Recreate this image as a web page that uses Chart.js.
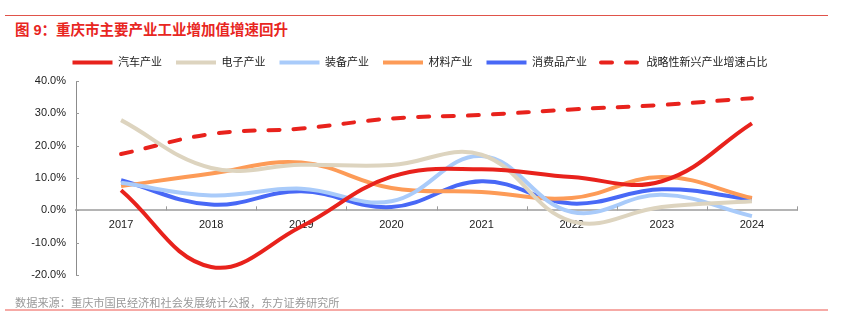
<!DOCTYPE html>
<html lang="zh">
<head>
    <meta charset="UTF-8">
    <title>重庆市主要产业工业增加值增速回升</title>
    <script src="https://cdn.jsdelivr.net/npm/chart.js"></script>
    <style>
        body {
            margin: 0;
            background: #ffffff;
            font-family: 'Liberation Sans', Arial, 'Noto Sans CJK SC', sans-serif;
        }
        .wrap {
            position: relative;
            width: 846px;
            height: 327px;
            overflow: hidden;
        }
        .rule-top {
            position: absolute;
            left: 5px;
            top: 15px;
            width: 823px;
            border-top: 1px solid #e0534a;
        }
        .title {
            position: absolute;
            left: 15px;
            top: 18px;
            font-size: 14.5px;
            font-weight: bold;
            color: #e8261f;
            white-space: nowrap;
        }
        .source {
            position: absolute;
            left: 15px;
            top: 294px;
            font-size: 11.2px;
            color: #999999;
            white-space: nowrap;
        }
        .rule-bottom {
            position: absolute;
            left: 5px;
            top: 309px;
            width: 823px;
            border-top: 2px solid #f6aaa6;
        }
        .chart-box {
            position: absolute;
            left: 0;
            top: 0;
            width: 846px;
            height: 327px;
        }
    </style>
</head>
<body>
<div class="wrap">
    <div class="rule-top"></div>
    <div class="title">图 9：重庆市主要产业工业增加值增速回升</div>
    <div class="chart-box"><canvas id="chart"></canvas></div>
    <div class="source">数据来源：重庆市国民经济和社会发展统计公报，东方证券研究所</div>
    <div class="rule-bottom"></div>
</div>

<script>
    // data (%)
    const years = ['2017', '2018', '2019', '2020', '2021', '2022', '2023', '2024'];
    const autoInd = [6.2, -17.5, -5.0, 10.4, 12.7, 10.3, 9.0, 26.9];
    const electronics = [27.9, 13.1, 14.1, 14.0, 17.2, -3.4, 1.0, 2.8];
    const equipment = [8.5, 4.6, 6.7, 2.8, 16.8, -0.5, 4.8, -1.8];
    const materials = [7.5, 11.4, 14.8, 6.9, 5.7, 3.8, 10.3, 3.8];
    const consumer = [9.3, 1.8, 5.9, 1.0, 9.0, 2.1, 6.5, 3.4];
    const strategic = [17.4, 23.6, 25.3, 28.4, 29.5, 31.2, 32.6, 34.7];
    const yTicks = [-20, -10, 0, 10, 20, 30, 40];

    const FONT = "'Liberation Sans', Arial, 'Noto Sans CJK SC', sans-serif";

    // small tick marks pointing into the plot, like the original
    const inwardTicks = {
        id: 'inwardTicks',
        afterDatasetsDraw(chart) {
            const { ctx, scales: { x, y } } = chart;
            const y0 = y.getPixelForValue(0);
            const step = x.getPixelForValue(1) - x.getPixelForValue(0);
            ctx.save();
            ctx.strokeStyle = '#9a9a9a';
            ctx.lineWidth = 1;
            ctx.beginPath();
            for (let i = 0; i <= years.length; i++) {
                const px = Math.round(x.getPixelForValue(0) - step / 2 + step * i) + 0.5;
                ctx.moveTo(px, y0);
                ctx.lineTo(px, y0 - 4);
            }
            yTicks.forEach(v => {
                const py = Math.round(y.getPixelForValue(v)) + 0.5;
                ctx.moveTo(x.left, py);
                ctx.lineTo(x.left + 3, py);
            });
            ctx.stroke();
            ctx.restore();
        }
    };

    // a bit more room under the legend
    const legendGap = {
        id: 'legendGap',
        afterInit(chart) {
            const lg = chart.legend;
            if (!lg) return;
            const fit = lg.fit.bind(lg);
            lg.fit = function () {
                fit();
                this.height += 3;
            };
        }
    };

    function line(label, data, color, extra) {
        return Object.assign({
            label: label,
            data: data,
            borderColor: color,
            backgroundColor: color,
            borderWidth: 4,
            pointRadius: 0,
            pointHoverRadius: 0,
            tension: 0.4,
            fill: false
        }, extra || {});
    }

    new Chart(document.getElementById('chart').getContext('2d'), {
        type: 'line',
        data: {
            labels: years,
            datasets: [
                line('汽车产业', autoInd, '#e8221c'),
                line('电子产业', electronics, '#ddd4bf'),
                line('装备产业', equipment, '#a9cbfa'),
                line('材料产业', materials, '#fd9b57'),
                line('消费品产业', consumer, '#4868f6'),
                line('战略性新兴产业增速占比', strategic, '#e8221c', {
                    borderDash: [11, 14],
                    borderCapStyle: 'round'
                })
            ]
        },
        options: {
            responsive: true,
            maintainAspectRatio: false,
            animation: false,
            layout: {
                padding: { left: 0, right: 6, top: 43, bottom: 52 }
            },
            plugins: {
                legend: {
                    display: true,
                    position: 'top',
                    labels: {
                        usePointStyle: true,
                        pointStyle: 'line',
                        pointStyleWidth: 40,
                        padding: 14,
                        color: '#222',
                        font: { family: FONT, size: 11 },
                        generateLabels: chart => chart.data.datasets.map((ds, i) => ({
                            text: ds.label,
                            datasetIndex: i,
                            fillStyle: ds.borderColor,
                            strokeStyle: ds.borderColor,
                            fontColor: '#222',
                            lineWidth: 4,
                            lineDash: ds.borderDash || [],
                            lineCap: ds.borderDash ? 'round' : 'butt',
                            pointStyle: 'line',
                            hidden: false
                        }))
                    }
                },
                tooltip: { enabled: false }
            },
            scales: {
                x: {
                    position: { y: 0 },
                    offset: true,
                    grid: { display: false, drawTicks: false },
                    border: { display: true, color: '#b4b4b4', width: 2 },
                    ticks: {
                        color: '#222',
                        padding: 8,
                        maxRotation: 0,
                        font: { family: FONT, size: 11 }
                    }
                },
                y: {
                    min: -20,
                    max: 40,
                    afterFit: scale => { scale.width = 76; },
                    grid: { display: false, drawTicks: false },
                    border: { display: true, color: '#8c8c8c', width: 1 },
                    ticks: {
                        stepSize: 10,
                        padding: 10,
                        color: '#222',
                        font: { family: FONT, size: 11 },
                        callback: v => v.toFixed(1) + '%'
                    }
                },
                // empty right-hand spacer so the legend sits centred on the page
                spacer: {
                    position: 'right',
                    min: 0,
                    max: 1,
                    afterFit: scale => { scale.width = 43; },
                    grid: { display: false, drawTicks: false },
                    border: { display: false },
                    ticks: { display: false }
                }
            }
        },
        plugins: [inwardTicks, legendGap]
    });
</script>
</body>
</html>
